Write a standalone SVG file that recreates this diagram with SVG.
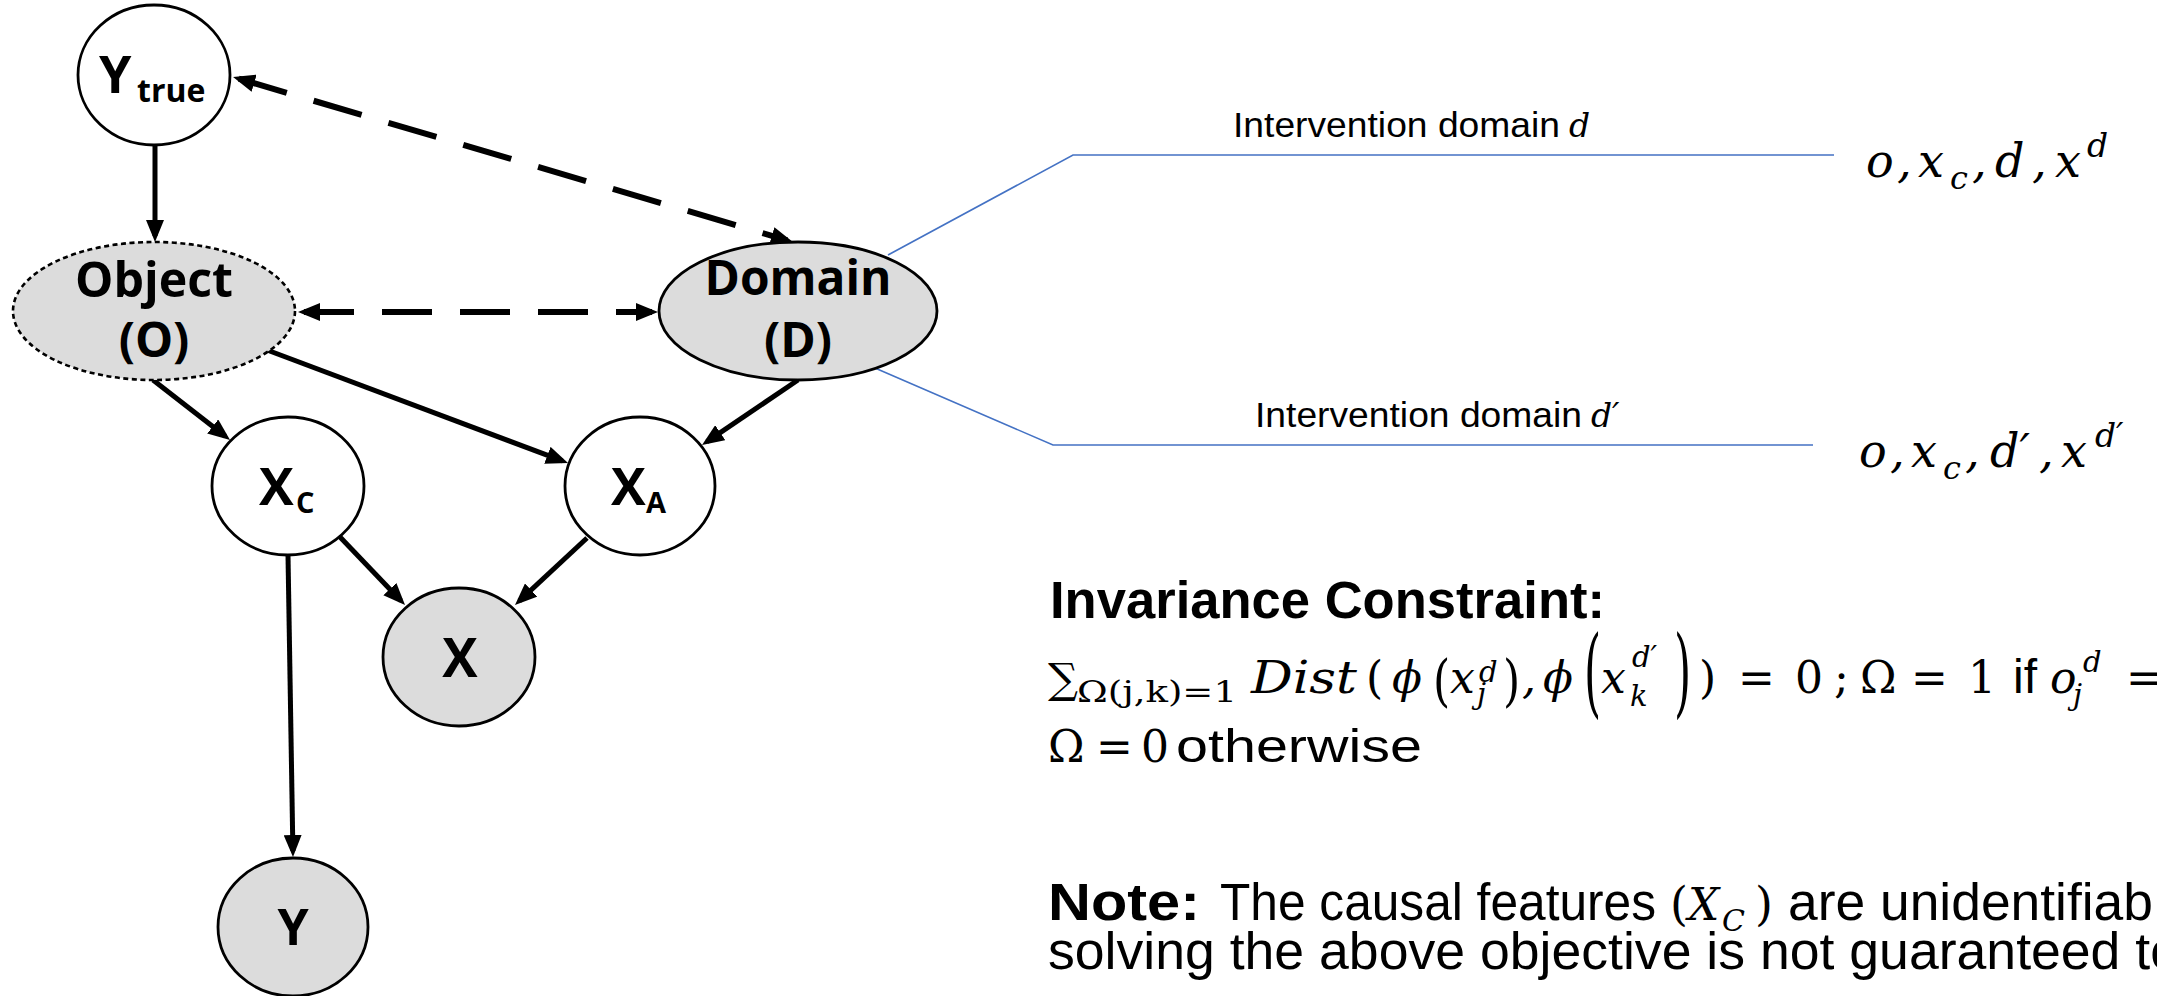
<svg xmlns="http://www.w3.org/2000/svg" width="2157" height="996" viewBox="0 0 2157 996">
  <style>
    .bg { fill: #ffffff; }
    .node { stroke: #000; stroke-width: 2.8; }
    .obs { fill: #dcdcdc; }
    .lat { fill: #ffffff; }
    .dotted { stroke-dasharray: 5 3.5; stroke-width: 2.6; }
    .lbl { font-family: "Open Sans", "Noto Sans", sans-serif; font-weight: 700; fill: #000; }
    .edge { stroke: #000; stroke-width: 5; fill: none; }
    .dash { stroke-dasharray: 50 28; stroke-width: 6; }
    .lead { stroke: #4472C4; stroke-width: 1.6; fill: none; }
    .sans { font-family: "Liberation Sans", Arial, sans-serif; fill: #000; }
    .bold { font-weight: 700; }
    .m { font-family: "DejaVu Serif", "Liberation Serif", serif; font-style: italic; fill: #000; }
    .mu { font-family: "DejaVu Serif", "Liberation Serif", serif; font-style: normal; fill: #000; }
  </style>
  <defs>
    <marker id="ah" markerUnits="userSpaceOnUse" viewBox="0 0 22 18" markerWidth="22" markerHeight="18" refX="16" refY="9" orient="auto-start-reverse">
      <path d="M0,0 L22,9 L0,18 z" fill="#000"/>
    </marker>
  </defs>

  <rect class="bg" x="0" y="0" width="2157" height="996"/>

  <!-- causal graph edges -->
  <g id="connectors">
    <line class="edge" x1="155" y1="145" x2="155" y2="236" marker-end="url(#ah)"/>
    <line class="edge" x1="153" y1="380" x2="225.3" y2="436.3" marker-end="url(#ah)"/>
    <line class="edge" x1="267" y1="350" x2="562.4" y2="460.9" marker-end="url(#ah)"/>
    <line class="edge" x1="798" y1="380" x2="707" y2="441.6" marker-end="url(#ah)"/>
    <line class="edge" x1="340" y1="537" x2="400.9" y2="600.7" marker-end="url(#ah)"/>
    <line class="edge" x1="587" y1="538" x2="519.4" y2="600.9" marker-end="url(#ah)"/>
    <line class="edge" x1="288" y1="555" x2="292.9" y2="851" marker-end="url(#ah)"/>
    <line class="edge dash" x1="238.8" y1="78.7" x2="787.2" y2="240.3" marker-start="url(#ah)" marker-end="url(#ah)"/>
    <line class="edge dash" x1="304" y1="312" x2="652" y2="312" marker-start="url(#ah)" marker-end="url(#ah)"/>
    <!-- leader lines from the domain node -->
    <polyline class="lead" points="888,255 1073,155 1834,155"/>
    <polyline class="lead" points="868,365 1053,445 1813,445"/>
  </g>

  <g id="node-ytrue">
    <ellipse class="node lat" cx="154" cy="75" rx="76" ry="70"/>
    <text class="lbl" x="99" y="93" font-size="52">Y</text>
    <text class="lbl" x="137" y="102" font-size="32">true</text>
  </g>

  <g id="node-object">
    <ellipse class="node obs dotted" cx="154" cy="311" rx="141" ry="69"/>
    <text class="lbl" x="154" y="297" font-size="48" text-anchor="middle" textLength="158" lengthAdjust="spacingAndGlyphs">Object</text>
    <text class="lbl" x="154" y="357" font-size="48" text-anchor="middle">(O)</text>
  </g>

  <g id="node-domain">
    <ellipse class="node obs" cx="798" cy="311" rx="139" ry="69"/>
    <text class="lbl" x="798" y="295" font-size="48" text-anchor="middle" textLength="187" lengthAdjust="spacingAndGlyphs">Domain</text>
    <text class="lbl" x="798" y="357" font-size="48" text-anchor="middle">(D)</text>
  </g>

  <g id="node-xc">
    <ellipse class="node lat" cx="288" cy="486" rx="76" ry="69"/>
    <text class="lbl" x="259" y="505" font-size="52">X</text>
    <text class="lbl" x="296" y="513" font-size="29">C</text>
  </g>

  <g id="node-xa">
    <ellipse class="node lat" cx="640" cy="486" rx="75" ry="69"/>
    <text class="lbl" x="611" y="505" font-size="52">X</text>
    <text class="lbl" x="646" y="513" font-size="29">A</text>
  </g>

  <g id="node-x">
    <ellipse class="node obs" cx="459" cy="657" rx="76" ry="69"/>
    <text class="lbl" x="460" y="677" font-size="53" text-anchor="middle">X</text>
  </g>

  <g id="node-y">
    <ellipse class="node obs" cx="293" cy="927" rx="75" ry="69"/>
    <text class="lbl" x="293" y="945" font-size="50" text-anchor="middle">Y</text>
  </g>

  <!-- intervention domains -->
  <g id="label-domain-d">
    <text class="sans" x="1233" y="137" font-size="35" textLength="327" lengthAdjust="spacingAndGlyphs">Intervention domain</text>
    <text class="m" x="1569" y="137" font-size="33">d</text>
  </g>
  <g id="label-domain-d2">
    <text class="sans" x="1255" y="427" font-size="35" textLength="327" lengthAdjust="spacingAndGlyphs">Intervention domain</text>
    <text class="m" x="1591" y="427" font-size="33">d′</text>
  </g>

  <g id="sample-d">
    <text class="m" y="177" font-size="46"><tspan x="1866">o</tspan><tspan x="1897">,</tspan><tspan x="1918">x</tspan><tspan x="1950" y="189" font-size="32">c</tspan><tspan x="1972" y="177">,</tspan><tspan x="1995">d</tspan><tspan x="2032">,</tspan><tspan x="2055">x</tspan><tspan x="2087" y="157" font-size="33">d</tspan></text>
  </g>
  <g id="sample-d2">
    <text class="m" y="467" font-size="46"><tspan x="1859">o</tspan><tspan x="1890">,</tspan><tspan x="1911">x</tspan><tspan x="1943" y="479" font-size="32">c</tspan><tspan x="1965" y="467">,</tspan><tspan x="1990">d′</tspan><tspan x="2039">,</tspan><tspan x="2061">x</tspan><tspan x="2095" y="447" font-size="33">d′</tspan></text>
  </g>

  <!-- invariance constraint -->
  <g id="constraint">
    <text class="sans bold" x="1050" y="618" font-size="51" textLength="555" lengthAdjust="spacingAndGlyphs">Invariance Constraint:</text>

    <text class="mu" x="1048" y="693" font-size="42">∑</text>
    <text class="mu" x="1077" y="702" font-size="29" textLength="160" lengthAdjust="spacingAndGlyphs">Ω(j,k)=1</text>
    <text class="m" x="1251" y="693" font-size="44" textLength="106" lengthAdjust="spacingAndGlyphs">Dist</text>
    <text class="mu" x="1366" y="693" font-size="44">(</text>
    <text class="m" x="1392" y="693" font-size="44">ϕ</text>
    <text class="mu" transform="translate(1433,700) scale(1,1.28)" font-size="44">(</text>
    <text class="m" x="1450" y="693" font-size="44">x</text>
    <text class="m" x="1477" y="704" font-size="29">j</text>
    <text class="m" x="1479" y="682" font-size="29">d</text>
    <text class="mu" transform="translate(1503,700) scale(1,1.28)" font-size="44">)</text>
    <text class="m" x="1522" y="693" font-size="44">,</text>
    <text class="m" x="1543" y="693" font-size="44">ϕ</text>
    <text class="mu" transform="translate(1584,705) scale(1,2.2)" font-size="44">(</text>
    <text class="m" x="1601" y="693" font-size="44">x</text>
    <text class="m" x="1630" y="706" font-size="29">k</text>
    <text class="m" x="1632" y="667" font-size="29">d′</text>
    <text class="mu" transform="translate(1674,705) scale(1,2.2)" font-size="44">)</text>
    <text class="mu" x="1699" y="693" font-size="44">)</text>
    <text class="mu" x="1738" y="693" font-size="44">=</text>
    <text class="mu" x="1795" y="693" font-size="44">0</text>
    <text class="mu" x="1834" y="693" font-size="44">;</text>
    <text class="mu" x="1860" y="693" font-size="44">Ω</text>
    <text class="mu" x="1911" y="693" font-size="44">=</text>
    <text class="mu" x="1968" y="693" font-size="44">1</text>
    <text class="sans" x="2013" y="693" font-size="48">if</text>
    <text class="m" x="2050" y="693" font-size="44">o</text>
    <text class="m" x="2073" y="705" font-size="29">j</text>
    <text class="m" x="2083" y="672" font-size="29">d</text>
    <text class="mu" x="2126" y="693" font-size="44">=</text>

    <text class="mu" x="1048" y="762" font-size="44">Ω</text>
    <text class="mu" x="1096" y="762" font-size="44">=</text>
    <text class="mu" x="1141" y="762" font-size="44">0</text>
    <text class="sans" x="1176" y="762" font-size="47" textLength="246" lengthAdjust="spacingAndGlyphs">otherwise</text>
  </g>

  <!-- note -->
  <g id="note">
    <text class="sans bold" x="1048" y="920" font-size="51" textLength="152" lengthAdjust="spacingAndGlyphs">Note:</text>
    <text class="sans" x="1220" y="920" font-size="51" textLength="436" lengthAdjust="spacingAndGlyphs">The causal features</text>
    <text class="mu" x="1670" y="920" font-size="46">(</text>
    <text class="m" x="1688" y="920" font-size="44">X</text>
    <text class="m" x="1722" y="931" font-size="30">C</text>
    <text class="mu" x="1755" y="920" font-size="46">)</text>
    <text class="sans" x="1788" y="920" font-size="51" textLength="365" lengthAdjust="spacingAndGlyphs">are unidentifiab</text>
    <text class="sans" x="1048" y="969" font-size="51" textLength="1132" lengthAdjust="spacingAndGlyphs">solving the above objective is not guaranteed to</text>
  </g>
</svg>
